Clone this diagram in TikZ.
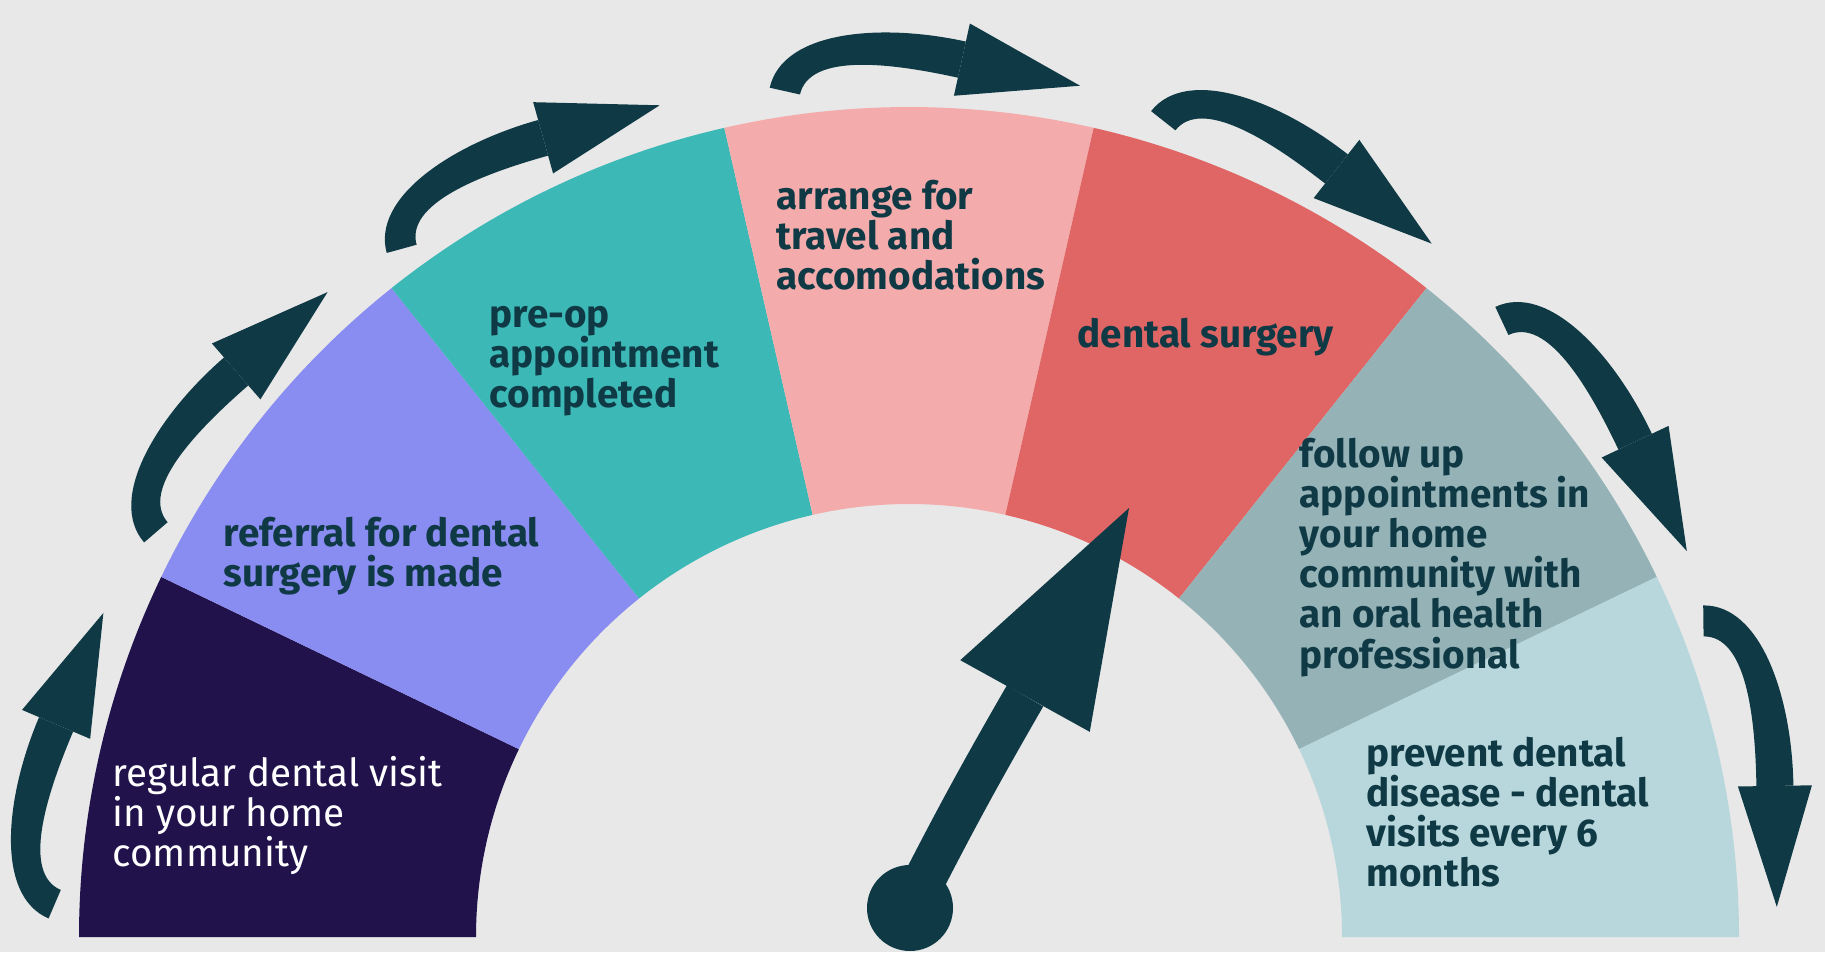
\documentclass[tikz,border=0pt]{standalone}
\usepackage{fontspec}
\setmainfont{Fira Sans}
\usetikzlibrary{calc}

\definecolor{paper}{HTML}{E8E8E8}
\definecolor{segA}{HTML}{21124C}
\definecolor{segB}{HTML}{898CF0}
\definecolor{segC}{HTML}{3CB8B6}
\definecolor{segD}{HTML}{F3ACAB}
\definecolor{segE}{HTML}{E06665}
\definecolor{segF}{HTML}{95B3B7}
\definecolor{segG}{HTML}{B8D7DC}
\definecolor{ink}{HTML}{0F3A45}

\tikzset{
  lbl/.style={anchor=west, align=left, inner sep=0pt, text=ink,
    font=\bfseries\fontsize{11}{11.4}\selectfont},
  lblwhite/.style={lbl, text=white, font=\fontsize{11}{11.4}\selectfont},
}

% curved step arrow around the gauge, given by the angle of its tail end:
% tail at radius 8.55, head base at radius 8.79, 11.8 degrees further on
\newcommand{\ringarrow}[2]{%
  \pgfmathsetmacro\tailang{#2}
  \pgfmathsetmacro\taildir{#2-21}
  \pgfmathsetmacro\baseang{#2-11.8}
  \pgfmathsetmacro\headdir{#2-110.8}
  \coordinate (#1t) at ($(C)+(\tailang:8.55)$);
  \coordinate (#1b) at ($(C)+(\baseang:8.79)$);
  \coordinate (#1p) at ($(#1b)+(\headdir:1.21)$);
  \fill[ink] ($(#1t)+({\taildir+90}:0.155)$)
      .. controls +(\taildir:0.58) and ($(#1b)+({\headdir+90}:0.185)+({\headdir+180}:0.88)$)
      .. ($(#1b)+({\headdir+90}:0.185)$)
      -- ($(#1b)+({\headdir-90}:0.185)$)
      .. controls +({\headdir+180}:0.72) and ($(#1t)+({\taildir-90}:0.155)+(\taildir:0.42)$)
      .. ($(#1t)+({\taildir-90}:0.155)$) -- cycle;
  \fill[ink] (#1p) -- ($(#1b)+({\headdir+90}:0.37)$) -- ($(#1b)+({\headdir-90}:0.37)$) -- cycle;
}

\begin{document}
\begin{tikzpicture}
\useasboundingbox (0,0) rectangle (18.25,9.52);
\fill[paper] (0,0) rectangle (18.25,9.52);

\coordinate (C) at (9.09,0.15);
\def\ro{8.30}
\def\ri{4.33}

% seven ring segments of the gauge
\foreach \i/\col in {0/segA,1/segB,2/segC,3/segD,4/segE,5/segF,6/segG}{
  \pgfmathsetmacro\sa{180-\i*180/7}
  \pgfmathsetmacro\sb{180-(\i+1)*180/7}
  \fill[\col] ($(C)+(\sa:\ro)$) arc[start angle=\sa, end angle=\sb, radius=\ro cm]
     -- ($(C)+(\sb:\ri)$) arc[start angle=\sb, end angle=\sa, radius=\ri cm] -- cycle;
}

% labels
\node[lblwhite] (t1) at (1.12,1.365) {regular dental visit\\in your home\\community};
\node[lbl] (t2) at (2.23,3.955) {referral for dental\\surgery is made};
\node[lbl] (t3) at (4.89,5.91) {pre-op\\appointment\\completed};
\node[lbl] (t4) at (7.76,7.17) {arrange for\\travel and\\accomodations};
\node[lbl] (t5) at (10.77,6.145) {dental surgery};
\node[lbl] (t6) at (12.99,3.945) {follow up\\appointments in\\your home\\community with\\an oral health\\professional};
\node[lbl] (t7) at (13.66,1.40) {prevent dental\\disease - dental\\visits every 6\\months};

% arrows around the outside
\ringarrow{aa}{177.8}
\ringarrow{ab}{151.75}
\ringarrow{ac}{126.4}
\ringarrow{ad}{98.35}
\ringarrow{ae}{72.7}
\ringarrow{af}{46.1}
\ringarrow{ag}{21.7}

% needle
\coordinate (nb) at (10.25,2.56);
\coordinate (np) at (11.29,4.44);
\node[circle, fill=ink, minimum size=0.86cm, inner sep=0pt] (hub) at (9.10,0.44) {};
\draw[ink, line width=0.42cm] (hub.center) to[bend left=1.5] (nb);
\fill[ink] (np) -- ($(nb)!0.74cm!90:(np)$) -- ($(nb)!0.74cm!-90:(np)$) -- cycle;
\end{tikzpicture}
\end{document}
